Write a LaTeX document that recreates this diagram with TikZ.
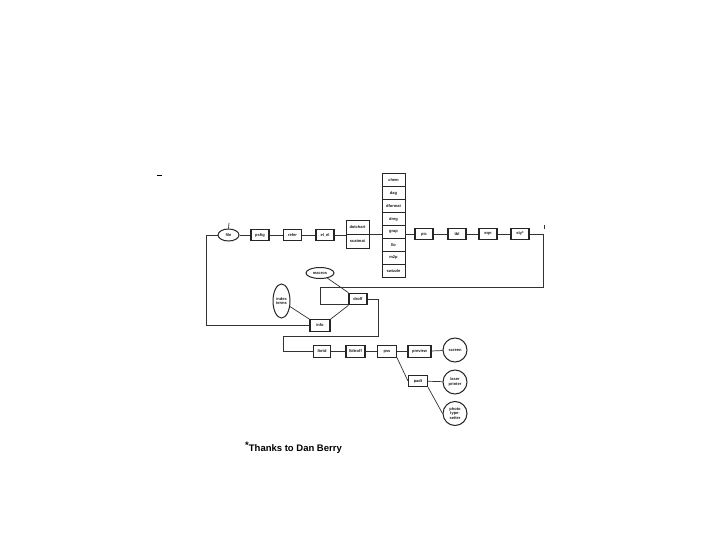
\documentclass[tikz,border=0pt]{standalone}
\usepackage{fontspec}
\setmainfont{Liberation Sans}
\usetikzlibrary{shapes.geometric}
\tikzset{
  lbl/.style={font=\fontsize{4}{4.4}\selectfont\bfseries, text=black!90, inner sep=0pt, align=center},
  pbox/.style={lbl, draw=black!85, line width=1.1pt, minimum width=18pt, minimum height=11.5pt},
  cell/.style={lbl, draw=black!85, line width=0.9pt, minimum width=23pt, minimum height=13pt},
  dcell/.style={lbl, draw=black!85, line width=0.9pt, minimum width=23pt, minimum height=14pt},
  oval/.style={lbl, ellipse, draw=black!85, line width=1pt},
  disc/.style={lbl, circle, draw=black!85, line width=1pt, minimum size=24pt},
  wire/.style={draw=black!80, line width=0.7pt}
}
\begin{document}
\begin{tikzpicture}[x=1pt,y=-1pt]
\useasboundingbox[fill=white] (0,0) rectangle (720,540);
% main row
\node[oval, minimum width=21pt, minimum height=12pt] (file) at (228.5,235) {file};
\node[pbox] (psfig) at (260,235) {psfig};
\node[pbox] (refer) at (292.5,235) {refer};
\node[pbox] (elel) at (325,235) {el\_el};
\node[dcell] (dotchart) at (357.5,227) {dotchart};
\node[dcell] (scatmat) at (357.5,241) {scatmat};
\node[cell] (chem) at (393.5,180) {chem};
\node[cell] (dag) at (393.5,193) {dag};
\node[cell] (dformat) at (393.5,206) {dformat};
\node[cell] (dreg) at (393.5,219) {dreg};
\node[cell] (grap) at (393.5,232) {grap};
\node[cell] (llo) at (393.5,245) {llo};
\node[cell] (mtp) at (393.5,258) {m2p};
\node[cell] (swizzle) at (393.5,271) {swizzle};
\node[pbox] (pic) at (424,234) {pic};
\node[pbox] (tbl) at (457,234) {tbl};
\node[pbox] (eqn) at (488,234) {eqn};
\node[pbox] (sty) at (520,234) {sty*};
% middle
\node[oval, minimum width=28pt, minimum height=11pt] (macros) at (320,273) {macros};
\node[oval, minimum width=17pt, minimum height=34pt] (index) at (281.5,301) {index\\terms};
\node[pbox] (droff) at (358,299) {droff};
\node[pbox, minimum width=20pt] (info) at (320,325.5) {info};
% bottom row
\node[pbox, minimum width=17pt] (lbrtd) at (322,351.5) {lbrtd};
\node[pbox, minimum width=19pt] (lbltroff) at (355.5,351.5) {lbltroff};
\node[pbox, minimum width=19pt] (pss) at (387,351.5) {pss};
\node[pbox, minimum width=23pt] (preview) at (419.5,351.5) {preview};
\node[disc] (screen) at (455,350) {screen};
\node[pbox, minimum width=19pt] (padt) at (418,381) {padt};
\node[disc] (laser) at (455,382) {laser\\printer};
\node[disc] (photo) at (455,413.5) {photo\\type-\\setter};
% coordinates
\coordinate (lt) at (206,235);
\coordinate (lb) at (206,325.5);
\coordinate (rt) at (543,234);
\coordinate (rb) at (543,287);
\coordinate (lp) at (320,287);
\coordinate (lq) at (320,304);
\coordinate (d1) at (378,299);
\coordinate (d2) at (378,336);
\coordinate (d3) at (283,336);
\coordinate (d4) at (283,351.5);
\coordinate (tk1) at (229,223);
\coordinate (rk1) at (544,225);
\coordinate (rk2) at (544,229);
\coordinate (dk1) at (157,176);
\coordinate (dk2) at (162,176);
% connectors
\draw[wire] (file.north) -- (tk1);
\draw[wire] (info.west) -- (lb) -- (lt) -- (file.west);
\draw[wire] (file) -- (psfig) -- (refer) -- (elel) -- (elel -| dotchart.west);
\draw[wire] (dotchart.south east) -- (dotchart.south east -| grap.west);
\draw[wire] (grap.east |- pic) -- (pic) -- (tbl) -- (eqn) -- (sty);
\draw[wire] (sty.east) -- (rt) -- (rb) -- (lp) -- (lq) -- (lq -| droff.west);
\draw[wire] (macros) -- (droff.north west);
\draw[wire] (index) -- (info.north west);
\draw[wire] (info.north east) -- (droff.south west);
\draw[wire] (droff.east) -- (d1) -- (d2) -- (d3) -- (d4) -- (lbrtd.west);
\draw[wire] (lbrtd) -- (lbltroff) -- (pss) -- (preview) -- (screen);
\draw[wire] (pss.south east) -- (padt.west);
\draw[wire] (padt) -- (laser);
\draw[wire] (padt.south east) -- (photo.west);
\draw[wire, line width=0.5pt] (rk1) -- (rk2);
\draw[line width=1pt] (dk1) -- (dk2);
% footnote
\node[anchor=west, inner sep=0pt, font=\fontsize{9.5}{11}\selectfont\bfseries] (thanks) at (245,447.5) {\raisebox{0.35em}{*}Thanks to Dan Berry};
\end{tikzpicture}
\end{document}
